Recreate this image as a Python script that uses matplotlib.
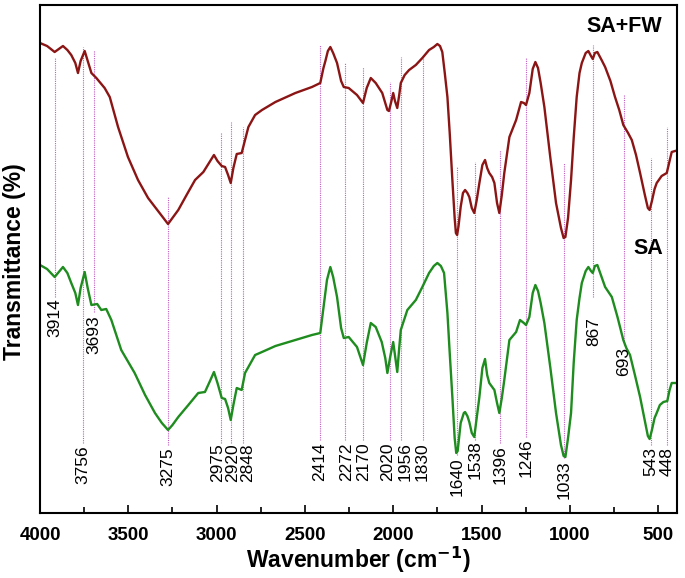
import matplotlib
matplotlib.use("Agg")
import matplotlib.pyplot as plt
from matplotlib.ticker import MultipleLocator

plt.rcParams['font.family'] = ['Liberation Sans', 'DejaVu Sans']

# FTIR spectra (wavenumber, arbitrary transmittance units)
wn_safw = [4000, 3960, 3917, 3870, 3845, 3823, 3800, 3785, 3770, 3747, 3730, 3709,
           3681, 3634, 3605, 3558, 3502, 3445, 3388, 3349, 3310, 3275, 3250, 3217,
           3170, 3122, 3075, 3040, 3015, 2995, 2971, 2952, 2935, 2920, 2905, 2886,
           2858, 2839, 2820, 2782, 2743, 2667, 2554, 2460, 2413, 2395, 2384, 2370,
           2356, 2340, 2318, 2295, 2280, 2252, 2205, 2171, 2150, 2127, 2099, 2062,
           2045, 2033, 2024, 2010, 2000, 1990, 1977, 1966, 1957, 1935, 1910, 1872,
           1835, 1797, 1770, 1750, 1735, 1722, 1708, 1693, 1680, 1665, 1652, 1645,
           1638, 1630, 1618, 1605, 1593, 1580, 1569, 1555, 1541, 1527, 1512, 1495,
           1480, 1468, 1456, 1440, 1427, 1412, 1399, 1385, 1371, 1342, 1304, 1276,
           1260, 1248, 1229, 1210, 1195, 1180, 1165, 1144, 1110, 1078, 1050, 1035,
           1025, 1010, 993, 978, 961, 945, 932, 910, 895, 880, 870, 858, 844, 820,
           800, 770, 744, 720, 697, 670, 649, 625, 602, 575, 558, 548, 535, 520,
           508, 480, 451, 435, 423, 404]
t_safw = [470, 467, 461, 467, 463, 458, 450, 440, 452, 462, 452, 440,
          435, 425, 416, 386, 356, 333, 315, 306, 297, 289, 295, 303,
          318, 333, 341, 351, 358, 352, 347, 346, 338, 330, 345, 359,
          360, 373, 386, 398, 403, 411, 420, 426, 430, 445, 452, 462,
          466, 460, 450, 432, 426, 425, 418, 410, 425, 435, 430, 420,
          410, 403, 402, 412, 420, 412, 405, 418, 430, 438, 443, 448,
          455, 463, 466, 469, 467, 461, 440, 416, 380, 333, 295, 280,
          278, 287, 306, 320, 323, 320, 316, 305, 300, 313, 330, 348,
          353, 345, 340, 336, 330, 310, 300, 318, 340, 376, 393, 411,
          410, 408, 420, 444, 451, 445, 430, 406, 355, 310, 285, 275,
          276, 295, 333, 375, 416, 440, 450, 460, 462, 457, 454, 460, 461, 453,
          446, 432, 416, 403, 388, 380, 373, 358, 340, 318, 305, 303, 312, 324,
          330, 337, 340, 352, 361, 362]

wn_sa = [4000, 3960, 3917, 3870, 3845, 3823, 3800, 3785, 3770, 3747, 3730, 3709,
         3676, 3653, 3625, 3596, 3540, 3464, 3405, 3349, 3310, 3275, 3250, 3217,
         3160, 3104, 3066, 3040, 3015, 2995, 2971, 2952, 2935, 2920, 2905, 2886,
         2858, 2839, 2782, 2743, 2667, 2554, 2460, 2413, 2395, 2375, 2356, 2340,
         2318, 2295, 2280, 2252, 2205, 2171, 2150, 2127, 2099, 2065, 2045, 2033,
         2015, 2000, 1988, 1977, 1966, 1957, 1920, 1872, 1835, 1797, 1770, 1750,
         1730, 1712, 1693, 1680, 1665, 1652, 1643, 1635, 1627, 1618, 1600, 1593,
         1580, 1569, 1555, 1541, 1527, 1512, 1495, 1480, 1468, 1456, 1427, 1412,
         1399, 1385, 1371, 1342, 1304, 1282, 1260, 1248, 1229, 1210, 1195, 1180,
         1165, 1144, 1110, 1078, 1050, 1035, 1025, 1010, 993, 978, 961, 945,
         932, 910, 895, 880, 870, 858, 844, 820, 800, 762, 730, 697, 680, 659,
         630, 602, 575, 558, 548, 535, 520, 508, 490, 470, 448, 435, 423, 404]
t_sa = [248, 244, 236, 246, 240, 230, 220, 208, 225, 241, 225, 208,
        209, 203, 204, 193, 163, 140, 118, 100, 90, 83, 88, 96,
        108, 120, 121, 131, 141, 130, 115, 114, 105, 93, 108, 125,
        123, 140, 158, 161, 167, 173, 178, 180, 205, 233, 246, 236,
        216, 185, 175, 176, 166, 148, 170, 190, 186, 171, 155, 140,
        158, 171, 155, 141, 165, 183, 203, 213, 226, 240, 247, 250,
        247, 240, 200, 160, 116, 75, 60, 62, 75, 90, 100, 101,
        97, 91, 80, 76, 95, 116, 145, 154, 138, 130, 123, 110,
        100, 115, 133, 173, 181, 193, 190, 188, 196, 220, 228, 222,
        210, 190, 145, 100, 68, 57, 56, 75, 100, 150, 193, 215,
        230, 242, 246, 242, 240, 247, 248, 236, 226, 216, 196, 173, 165, 158,
        137, 116, 92, 77, 74, 83, 95, 100, 108, 111, 112, 123, 130, 130]

# peak markers: wavenumber, dotted line top/bottom, label position
peaks = [3914, 3756, 3693, 3275, 2975, 2920, 2848, 2414, 2272, 2170, 2020,
         1956, 1830, 1640, 1538, 1396, 1246, 1033, 867, 693, 543, 448]
line_top = [456, 466, 463, 316, 380, 391, 386, 468, 450, 446, 431,
            456, 456, 346, 351, 363, 455, 350, 468, 418, 355, 386]
line_bot = [216, 70, 201, 68, 70, 70, 70, 73, 73, 73, 73,
            73, 73, 58, 73, 70, 76, 55, 216, 168, 68, 68]
label_x = [3914, 3756, 3693, 3275, 2992, 2907, 2822, 2414, 2265, 2165, 2029,
           1933, 1835, 1640, 1538, 1396, 1246, 1033, 867, 693, 543, 448]
label_y = [195, 48, 178, 46, 50, 50, 50, 51, 51, 51, 51,
           51, 51, 36, 53, 48, 55, 33, 181, 151, 51, 51]

fig = plt.figure(figsize=(6.85, 5.78), dpi=100)
ax = fig.add_axes([40 / 685, 1 - 513 / 578, 637 / 685, 508 / 578])

ax.vlines(peaks, line_bot, line_top, colors='#c45cc4', linewidth=0.8,
          linestyles=(0, (1, 1)))
for lx, ly, p in zip(label_x, label_y, peaks):
    ax.text(lx, ly, str(p), rotation=90, ha='center', va='center',
            fontsize=12.5, color='black')

ax.plot(wn_safw, t_safw, color='#8b1515', linewidth=1.7,
        solid_joinstyle='round')
ax.plot(wn_sa, t_sa, color='#1e8c1e', linewidth=1.7, solid_joinstyle='round')

ax.text(693, 486, 'SA+FW', ha='center', va='center', fontsize=15.5,
        fontweight='bold')
ax.text(557, 265, 'SA', ha='center', va='center', fontsize=15.5,
        fontweight='bold')

ax.set_xlim(4000, 393)
ax.set_ylim(0, 508)
ax.xaxis.set_major_locator(MultipleLocator(500))
ax.xaxis.set_minor_locator(MultipleLocator(250))
ax.set_yticks([])
ax.tick_params(axis='x', which='both', direction='in', top=False, pad=10,
               labelsize=13.5)
ax.tick_params(axis='x', which='major', length=6, width=1.2)
ax.tick_params(axis='x', which='minor', length=4, width=1.2)
for lbl in ax.get_xticklabels():
    lbl.set_fontweight('bold')
for s in ax.spines.values():
    s.set_linewidth(1.5)

fig.text(358 / 685, 1 - 560 / 578, 'Wavenumber (cm$^{\\mathbf{-1}}$)',
         ha='center', va='center', fontsize=16.5, fontweight='bold')
fig.text(15 / 685, 1 - 262 / 578, 'Transmittance (%)', rotation=90,
         ha='center', va='center', fontsize=16.5, fontweight='bold')

fig.savefig('out.png', dpi=100)
